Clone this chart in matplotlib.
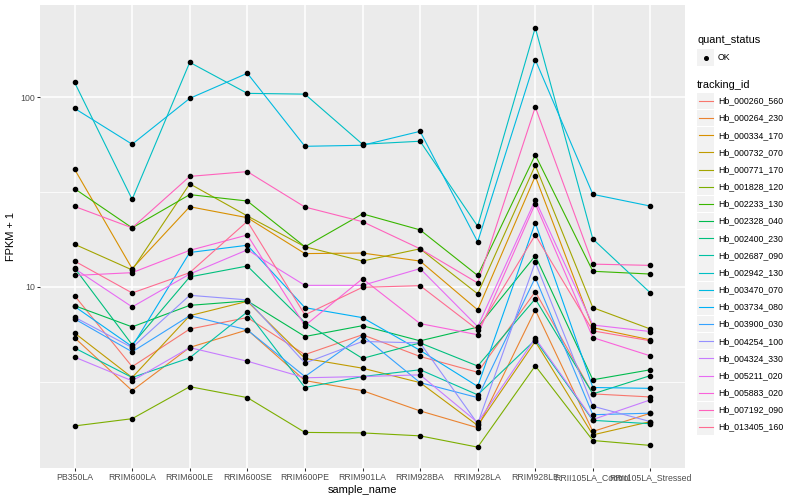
import matplotlib
matplotlib.use("Agg")
import matplotlib.pyplot as plt
from matplotlib.patches import Rectangle
from matplotlib.ticker import FixedLocator, NullFormatter
import numpy as np

plt.rcParams['font.family'] = ['Liberation Sans', 'DejaVu Sans']

samples = ["PB350LA", "RRIM600LA", "RRIM600LE", "RRIM600SE", "RRIM600PE",
           "RRIM901LA", "RRIM928BA", "RRIM928LA", "RRIM928LE",
           "RRII105LA_Control", "RRII105LA_Stressed"]

tracking_ids = ["Hb_000260_560", "Hb_000264_230", "Hb_000334_170", "Hb_000732_070",
                "Hb_000771_170", "Hb_001828_120", "Hb_002233_130", "Hb_002328_040",
                "Hb_002400_230", "Hb_002687_090", "Hb_002942_130", "Hb_003470_070",
                "Hb_003734_080", "Hb_003900_030", "Hb_004254_100", "Hb_004324_330",
                "Hb_005211_020", "Hb_005883_020", "Hb_007192_090", "Hb_013405_160"]

# FPKM + 1 values, one list per tracking_id, ordered as samples
hb_000260_560 = [9.0, 3.8, 6.0, 6.9, 4.4, 5.6, 4.3, 3.55, 9.45, 2.73, 2.63]
hb_000264_230 = [5.4, 2.84, 4.8, 5.94, 3.21, 2.84, 2.22, 1.81, 7.57, 1.73, 2.16]
hb_000334_170 = [41.8, 12.5, 26.5, 23.2, 15.0, 15.1, 13.7, 7.57, 38.4, 6.1, 5.26]
hb_000732_070 = [5.72, 3.33, 7.06, 8.4, 4.2, 3.73, 3.13, 1.86, 5.16, 1.66, 1.95]
hb_000771_170 = [16.8, 12.3, 35.0, 23.7, 16.3, 13.7, 15.9, 9.2, 43.8, 7.78, 6.0]
hb_001828_120 = [1.85, 2.02, 2.98, 2.61, 1.71, 1.70, 1.64, 1.43, 3.84, 1.55, 1.46]
hb_002233_130 = [33.0, 20.5, 30.7, 28.4, 16.3, 24.3, 20.0, 11.5, 49.7, 12.1, 11.7]
hb_002328_040 = [7.97, 6.16, 8.0, 8.44, 5.48, 6.25, 5.2, 6.14, 14.6, 3.24, 3.66]
hb_002400_230 = [12.6, 4.96, 11.3, 12.9, 6.49, 4.2, 5.07, 3.83, 8.65, 2.73, 3.41]
hb_002687_090 = [4.77, 3.33, 4.23, 7.39, 2.95, 3.37, 3.66, 2.70, 5.26, 1.98, 1.9]
hb_002942_130 = [120, 29.0, 153, 105, 104, 56.6, 58.7, 20.9, 233, 17.9, 9.3]
hb_003470_070 = [87.5, 56.6, 98.8, 134, 55.2, 55.9, 66.2, 17.3, 158, 30.8, 26.7]
hb_003734_080 = [7.9, 4.85, 15.2, 16.6, 7.78, 6.89, 4.63, 2.99, 21.8, 2.95, 2.92]
hb_003900_030 = [6.79, 4.55, 7.06, 5.94, 3.37, 5.54, 3.13, 2.61, 11.2, 2.12, 2.16]
hb_004254_100 = [6.93, 4.79, 9.04, 8.55, 3.97, 5.16, 5.07, 1.90, 13.5, 2.35, 1.95]
hb_004324_330 = [4.27, 3.2, 4.79, 4.06, 3.32, 3.37, 3.44, 1.93, 5.37, 2.0, 2.54]
hb_005211_020 = [12.5, 7.85, 11.7, 15.7, 10.2, 10.2, 12.5, 6.18, 28.8, 6.3, 5.82]
hb_005883_020 = [11.5, 11.9, 15.6, 18.8, 6.25, 11.06, 6.41, 5.6, 27.5, 5.41, 4.33]
hb_007192_090 = [26.6, 20.5, 38.3, 40.6, 26.4, 22.1, 15.9, 10.5, 88.9, 13.2, 13.0]
hb_013405_160 = [13.7, 9.3, 11.9, 22.2, 7.13, 9.96, 10.16, 5.94, 18.8, 5.87, 5.2]

series = [hb_000260_560, hb_000264_230, hb_000334_170, hb_000732_070, hb_000771_170,
          hb_001828_120, hb_002233_130, hb_002328_040, hb_002400_230, hb_002687_090,
          hb_002942_130, hb_003470_070, hb_003734_080, hb_003900_030, hb_004254_100,
          hb_004324_330, hb_005211_020, hb_005883_020, hb_007192_090, hb_013405_160]

colors = ["#F8766D", "#EA8331", "#D89000", "#C09B00", "#A3A500", "#7CAE00", "#39B600",
          "#00BB4E", "#00BF7D", "#00C1A3", "#00BFC4", "#00BAE0", "#00B0F6", "#35A2FF",
          "#9590FF", "#C77CFF", "#E76BF3", "#FA62DB", "#FF62BC", "#FF6C91"]

W, H = 800, 500
fig = plt.figure(figsize=(W / 100, H / 100), dpi=100)
L, R, T, B = 40, 685, 5, 468
ax = fig.add_axes([L / W, 1 - B / H, (R - L) / W, (B - T) / H])
ax.set_facecolor('#EBEBEB')
ax.set_yscale('log')
ax.set_xlim(-0.6, len(samples) - 1 + 0.6)
ax.set_ylim(1.11, 307)

x = np.arange(len(samples))
for vals, c in zip(series, colors):
    ax.plot(x, vals, color=c, lw=0.8, zorder=3, solid_joinstyle='round')
for vals in series:
    ax.plot(x, vals, 'o', color='black', ms=3.0, zorder=4, lw=0)

ax.set_xticks(x)
ax.set_xticklabels(samples)
ax.set_yticks([10, 100])
ax.set_yticklabels(['10', '100'])
ax.yaxis.set_minor_locator(FixedLocator([10 ** 0.5, 10 ** 1.5]))
ax.yaxis.set_minor_formatter(NullFormatter())
ax.xaxis.set_minor_locator(FixedLocator([]))
ax.grid(which='major', color='white', lw=1.1)
ax.grid(which='minor', axis='y', color='white', lw=0.55)
ax.set_axisbelow(True)
for s in ax.spines.values():
    s.set_visible(False)
ax.tick_params(which='major', length=2.0, width=0.75, color='#333333',
               labelsize=6.3, labelcolor='#4D4D4D', pad=1.6)
ax.tick_params(which='minor', length=0)

ax.set_xlabel('sample_name', fontsize=7.9, color='black', labelpad=2.5)
ax.set_ylabel('FPKM + 1', fontsize=7.9, color='black', labelpad=3)

# legend drawn in figure pixel coordinates
lax = fig.add_axes([0, 0, 1, 1])
lax.set_xlim(0, W)
lax.set_ylim(H, 0)
lax.axis('off')
lax.patch.set_alpha(0)

kx, kw, kh = 697, 17, 16.5
lax.text(kx, 40, 'quant_status', fontsize=7.9, va='center', ha='left')
lax.add_patch(Rectangle((kx, 57.5 - kh / 2), kw, kh, facecolor='#F2F2F2', edgecolor='none'))
lax.plot([kx + kw / 2], [57.5], 'o', color='black', ms=2.6)
lax.text(kx + kw + 4, 57.5, 'OK', fontsize=6.3, va='center', ha='left')

lax.text(kx, 85, 'tracking_id', fontsize=7.9, va='center', ha='left')
y0, step = 101, 17.16
for i, (name, c) in enumerate(zip(tracking_ids, colors)):
    yc = y0 + i * step
    lax.add_patch(Rectangle((kx, yc - kh / 2), kw, kh, facecolor='#F2F2F2', edgecolor='none'))
    lax.plot([kx + 1.5, kx + kw - 1.5], [yc, yc], color=c, lw=0.8)
    lax.text(kx + kw + 4, yc, name, fontsize=6.3, va='center', ha='left', color='black')

fig.savefig('out.png', dpi=100)
